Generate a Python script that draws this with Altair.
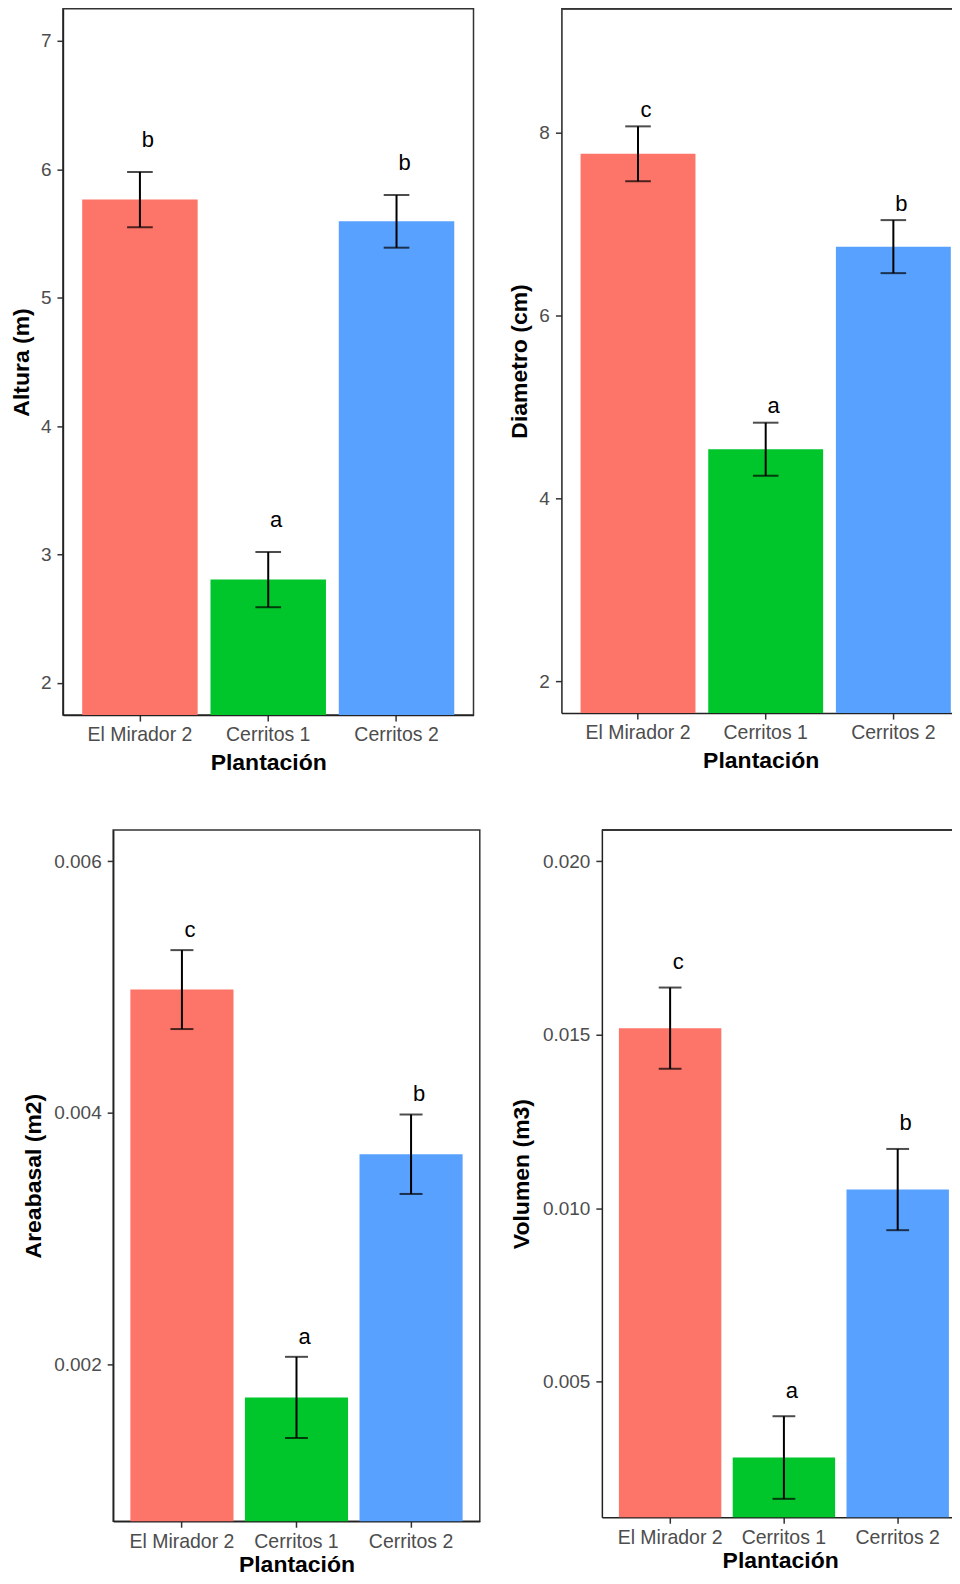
import altair as alt
import pandas as pd

FONT = "Liberation Sans"

plantaciones = ["El Mirador 2", "Cerritos 1", "Cerritos 2"]
colores = ["#FD7468", "#00C52B", "#59A1FF"]

# Altura (m)
altura_media = [5.765, 2.805, 5.595]
altura_se = [0.215, 0.215, 0.205]
altura_letras = ["b", "a", "b"]

# Diametro (cm)
diam_media = [7.765, 4.535, 6.75]
diam_se = [0.30, 0.29, 0.29]
diam_letras = ["c", "a", "b"]

# Areabasal (m2)
area_media = [0.00498, 0.001735, 0.00367]
area_se = [0.000314, 0.000323, 0.000316]
area_letras = ["c", "a", "b"]

# Volumen (m3)
vol_media = [0.01519, 0.00282, 0.01054]
vol_se = [0.00117, 0.00119, 0.00117]
vol_letras = ["c", "a", "b"]


def make_df(media, se, letras, gap):
    return pd.DataFrame({
        "Plantación": plantaciones,
        "media": media,
        "lower": [m - s for m, s in zip(media, se)],
        "upper": [m + s for m, s in zip(media, se)],
        "ylab": [m + s + gap for m, s in zip(media, se)],
        "letra": letras,
    })


def panel(df, ytitle, domain, ticks, fmt, width, height, cap, title_pad,
          xlabel_pad, xtitle_pad, pad_outer=0.15, align=0.5, open_right=False):
    xenc = alt.X(
        "Plantación:N", sort=plantaciones,
        scale=alt.Scale(paddingInner=0.1, paddingOuter=pad_outer, align=align),
        axis=alt.Axis(title="Plantación", labelAngle=0, labelPadding=xlabel_pad,
                      titlePadding=xtitle_pad, titleFontSize=23, labelFontSize=19.5),
    )
    yscale = alt.Scale(domain=domain, nice=False, zero=False)
    base = alt.Chart(df).encode(x=xenc)
    bars = base.mark_bar(clip=True).encode(
        y=alt.Y("media:Q", scale=yscale,
                axis=alt.Axis(title=ytitle, values=ticks, format=fmt,
                              labelPadding=6, titlePadding=title_pad,
                              titleFontSize=23, labelFontSize=19)),
        color=alt.Color("Plantación:N",
                        scale=alt.Scale(domain=plantaciones, range=colores),
                        legend=None),
    )
    rule = base.mark_rule(color="black", strokeWidth=2).encode(
        y=alt.Y("lower:Q", scale=yscale), y2="upper:Q")
    cap_up = base.mark_tick(color="black", size=cap, thickness=2).encode(
        y=alt.Y("upper:Q", scale=yscale))
    cap_lo = base.mark_tick(color="black", size=cap, thickness=2).encode(
        y=alt.Y("lower:Q", scale=yscale))
    txt = base.mark_text(dx=8, fontSize=22, baseline="middle", font=FONT,
                         color="black").encode(
        y=alt.Y("ylab:Q", scale=yscale), text="letra:N")
    layers = [bars, rule, cap_up, cap_lo, txt]
    props = dict(width=width, height=height)
    if open_right:
        top_line = alt.Chart(df).mark_rule(color="#333333", strokeWidth=1.5).encode(
            x=alt.value(0), x2=alt.value(width), y=alt.value(0))
        layers.append(top_line)
        props["view"] = alt.ViewBackground(strokeOpacity=0)
    return alt.layer(*layers).properties(**props)


tl = panel(make_df(altura_media, altura_se, altura_letras, 0.25),
           "Altura (m)", [1.75, 7.25], [2, 3, 4, 5, 6, 7], "d",
           411, 707, 25.7, 7, 4, 8)
tr = panel(make_df(diam_media, diam_se, diam_letras, 0.18),
           "Diametro (cm)", [1.65, 9.35], [2, 4, 6, 8], "d",
           399, 705, 25.6, 7, 4, 8, pad_outer=0.111, align=0.676, open_right=True)
bl = panel(make_df(area_media, area_se, area_letras, 0.00016),
           "Areabasal (m2)", [0.00075, 0.00625], [0.002, 0.004, 0.006], ".3f",
           367, 692, 23, 8.5, 5, 3)
br = panel(make_df(vol_media, vol_se, vol_letras, 0.00074),
           "Volumen (m3)", [0.0011, 0.0209], [0.005, 0.010, 0.015, 0.020], ".3f",
           357, 688, 22.8, 8.5, 5, 3, pad_outer=0.117, align=0.64, open_right=True)


def spacer():
    return alt.Chart(pd.DataFrame({"a": [0]})).mark_point(
        opacity=0, size=0, strokeWidth=0).properties(
        width=1, height=1, view=alt.ViewBackground(strokeOpacity=0))


top = alt.hconcat(spacer(), alt.hconcat(tl, tr, spacing=34), spacing=0)
bottom = alt.hconcat(spacer(), alt.hconcat(bl, br, spacing=29.2), spacing=12.3)

chart = alt.vconcat(top, bottom, spacing=53).properties(
    padding={"left": 0, "top": -1, "right": -9, "bottom": 0}
).configure(font=FONT).configure_view(
    stroke="#333333", strokeWidth=1.5
).configure_axis(
    grid=False, labelFont=FONT, titleFont=FONT, labelColor="#4D4D4D",
    titleColor="black", titleFontWeight="bold", tickColor="#333333",
    tickSize=6, tickWidth=1.5, domainColor="#222222", domainWidth=1.5,
)

chart.save("out.html", embed_options={"renderer": "svg", "actions": False})
